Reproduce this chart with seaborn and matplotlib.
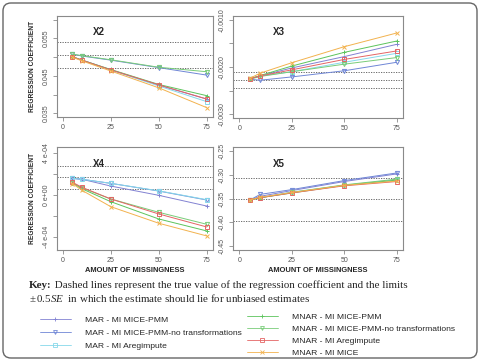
import matplotlib
matplotlib.use("Agg")
import matplotlib.pyplot as plt
import matplotlib.colors as mcolors
import numpy as np
import pandas as pd
import seaborn as sns
from matplotlib.lines import Line2D
from matplotlib.patches import FancyBboxPatch

amount = [5, 10, 25, 50, 75]

methods = ["MAR - MI MICE-PMM", "MAR - MI MICE-PMM-no transformations", "MAR - MI Aregimpute",
           "MNAR - MI MICE-PMM", "MNAR - MI MICE-PMM-no transformations", "MNAR - MI Aregimpute",
           "MNAR - MI MICE"]
colors = ["#8282d2", "#6f86d6", "#86d8ea", "#5cc45c", "#78cc78", "#e46464", "#f2b24e"]
markers = ["+", "v", "s", "+", "v", "s", "x"]

# regression coefficient estimates, one row per method
x2_values = [[0.0501, 0.0492, 0.0466, 0.0425, 0.0388],
             [0.0508, 0.0503, 0.0492, 0.0472, 0.0452],
             [0.0501, 0.0492, 0.0466, 0.0423, 0.0381],
             [0.0501, 0.0492, 0.0467, 0.0427, 0.0397],
             [0.0508, 0.0504, 0.0493, 0.0473, 0.0461],
             [0.0501, 0.0492, 0.0466, 0.0426, 0.0388],
             [0.0500, 0.0490, 0.0463, 0.0418, 0.0365]]
x3_values = [[-0.00225, -0.00219, -0.00202, -0.00178, -0.00152],
             [-0.00226, -0.00228, -0.00221, -0.00208, -0.00190],
             [-0.00225, -0.00219, -0.00210, -0.00190, -0.00171],
             [-0.00225, -0.00218, -0.00198, -0.00169, -0.00145],
             [-0.00226, -0.00220, -0.00210, -0.00194, -0.00180],
             [-0.00225, -0.00219, -0.00206, -0.00184, -0.00166],
             [-0.00224, -0.00213, -0.00191, -0.00157, -0.00128]]
x4_values = [[1.60e-4, 1.51e-4, 0.86e-4, -0.03e-4, -1.06e-4],
             [1.60e-4, 1.51e-4, 1.12e-4, 0.38e-4, -0.48e-4],
             [1.60e-4, 1.51e-4, 1.12e-4, 0.40e-4, -0.45e-4],
             [1.15e-4, 0.60e-4, -0.64e-4, -2.30e-4, -3.45e-4],
             [1.18e-4, 0.68e-4, -0.38e-4, -1.66e-4, -2.81e-4],
             [1.22e-4, 0.74e-4, -0.38e-4, -1.82e-4, -3.07e-4],
             [1.10e-4, 0.45e-4, -1.12e-4, -2.71e-4, -3.93e-4]]
x5_values = [[-0.353, -0.345, -0.333, -0.314, -0.298],
             [-0.353, -0.341, -0.331, -0.312, -0.296],
             [-0.353, -0.348, -0.336, -0.322, -0.310],
             [-0.353, -0.348, -0.338, -0.322, -0.311],
             [-0.353, -0.348, -0.337, -0.321, -0.309],
             [-0.353, -0.348, -0.338, -0.323, -0.314],
             [-0.353, -0.347, -0.337, -0.322, -0.313]]

# true value and +/- 0.5 SE limits
x2_limits = [0.0540, 0.0506, 0.0472]
x3_limits = [-0.00211, -0.00228, -0.00245]
x4_limits = [2.76e-4, 1.70e-4, 0.59e-4]
x5_limits = [-0.306, -0.351, -0.396]

x2_ticks = [0.035, 0.040, 0.045, 0.050, 0.055, 0.060]
x2_labels = ["0.035", "", "0.045", "", "0.055", ""]
x3_ticks = [-0.0030, -0.0025, -0.0020, -0.0015, -0.0010]
x3_labels = ["-0.0030", "", "-0.0020", "", "-0.0010"]
x4_ticks = [-4e-4, -2e-4, 0, 2e-4, 4e-4]
x4_labels = ["-4 e-04", "", "0 e+00", "", "4 e-04"]
x5_ticks = [-0.45, -0.40, -0.35, -0.30, -0.25]
x5_labels = ["-0.45", "-0.40", "-0.35", "-0.30", "-0.25"]

sns.set_theme(style="white")
plt.rcParams["font.family"] = ["Liberation Sans", "DejaVu Sans"]
plt.rcParams["mathtext.fontset"] = "custom"
plt.rcParams["mathtext.rm"] = "Liberation Serif"
plt.rcParams["mathtext.it"] = "Liberation Serif:italic"

W, H = 480, 361
fig = plt.figure(figsize=(4.8, 3.61), dpi=100)
marker_of = {mcolors.to_hex(c): m for c, m in zip(colors, markers)}

def draw_panel(rect, values, limits, ylim, ticks, labels, name, xlabel, ylabel):
    ax = fig.add_axes(rect)
    df = pd.DataFrame({"amount": amount * len(methods),
                       "value": sum(values, []),
                       "method": np.repeat(methods, len(amount))})
    sns.lineplot(data=df, x="amount", y="value", hue="method", hue_order=methods,
                 palette=dict(zip(methods, colors)), linewidth=0.7, legend=False, ax=ax)
    for line in ax.lines:
        col = mcolors.to_hex(line.get_color())
        line.set_marker(marker_of[col])
        line.set_markersize(3.0)
        line.set_markeredgecolor(col)
        line.set_markerfacecolor("none")
        line.set_markeredgewidth(0.7)
    for v in limits:
        ax.axhline(v, color="#555555", lw=0.6, ls=(0, (1.5, 1.5)), zorder=0)
    ax.set_xlim(-3, 78)
    ax.set_ylim(*ylim)
    ax.set_xticks([0, 25, 50, 75])
    ax.set_xticklabels(["0", "25", "50", "75"])
    ax.set_yticks(ticks)
    ax.set_yticklabels(labels, rotation=90, va="center")
    for s in ax.spines.values():
        s.set_visible(True)
        s.set_color("#8a8a8a")
        s.set_linewidth(0.8)
    ax.tick_params(direction="out", length=3, width=0.6, color="#8a8a8a",
                   labelcolor="#555555", labelsize=5, pad=2, left=True, bottom=True)
    ax.text(0.27, 0.84, name, transform=ax.transAxes, fontsize=7, fontweight="bold",
            ha="center", va="center")
    ax.set_xlabel(xlabel, fontsize=5.4, fontweight="bold", labelpad=2)
    ax.set_ylabel(ylabel, fontsize=4.8, fontweight="bold", labelpad=5)
    return ax

draw_panel([57 / W, 244 / H, 155.5 / W, 101 / H], x2_values, x2_limits, (0.034, 0.061),
           x2_ticks, x2_labels, "X2", "", "REGRESSION COEFFICIENT")
draw_panel([233 / W, 243 / H, 170 / W, 102 / H], x3_values, x3_limits, (-0.00308, -0.00092),
           x3_ticks, x3_labels, "X3", "", "")
draw_panel([57 / W, 111 / H, 155.5 / W, 102.7 / H], x4_values, x4_limits, (-5.28e-4, 4.58e-4),
           x4_ticks, x4_labels, "X4", "AMOUNT OF MISSINGNESS", "REGRESSION COEFFICIENT")
draw_panel([233 / W, 111 / H, 170 / W, 102.7 / H], x5_values, x5_limits, (-0.458, -0.242),
           x5_ticks, x5_labels, "X5", "AMOUNT OF MISSINGNESS", "")

# key text below the panels
key = fig.text(29 / W, 1 - 285 / H, "Key:", fontsize=7.9, fontweight="bold",
               family="Liberation Serif", va="center")
fig.canvas.draw()
bb = key.get_window_extent()
fig.text(bb.x1 / W, 1 - 285 / H,
         " Dashed lines represent the true value of the regression coefficient and the limits",
         fontsize=7.9, family="Liberation Serif", va="center")
fig.text(29 / W, 1 - 297.7 / H,
         r"$\pm\,0.5\mathit{SE}$  in which the estimate should lie for unbiased estimates",
         fontsize=7.9, family="Liberation Serif", va="center")

handles = [Line2D([], [], color=c, marker=m, markersize=2.8, markerfacecolor="none",
                  markeredgewidth=0.6, lw=0.6) for c, m in zip(colors, markers)]
fig.legend(handles[:3], methods[:3], loc="upper left", bbox_to_anchor=(40 / W, 1 - 316 / H),
           frameon=False, fontsize=6.1, handlelength=3.6, handletextpad=1.75,
           labelspacing=0.62, borderpad=0, borderaxespad=0)
fig.legend(handles[3:], methods[3:], loc="upper left", bbox_to_anchor=(247 / W, 1 - 313.5 / H),
           frameon=False, fontsize=6.1, handlelength=3.6, handletextpad=1.75,
           labelspacing=0.48, borderpad=0, borderaxespad=0)

border = FancyBboxPatch((0.03, 0.03), 4.74, 3.55, boxstyle="round,pad=0,rounding_size=0.08",
                        transform=fig.dpi_scale_trans, fill=False, ec="#666666", lw=1.0)
fig.patches.append(border)

fig.savefig("out.png", dpi=100)
